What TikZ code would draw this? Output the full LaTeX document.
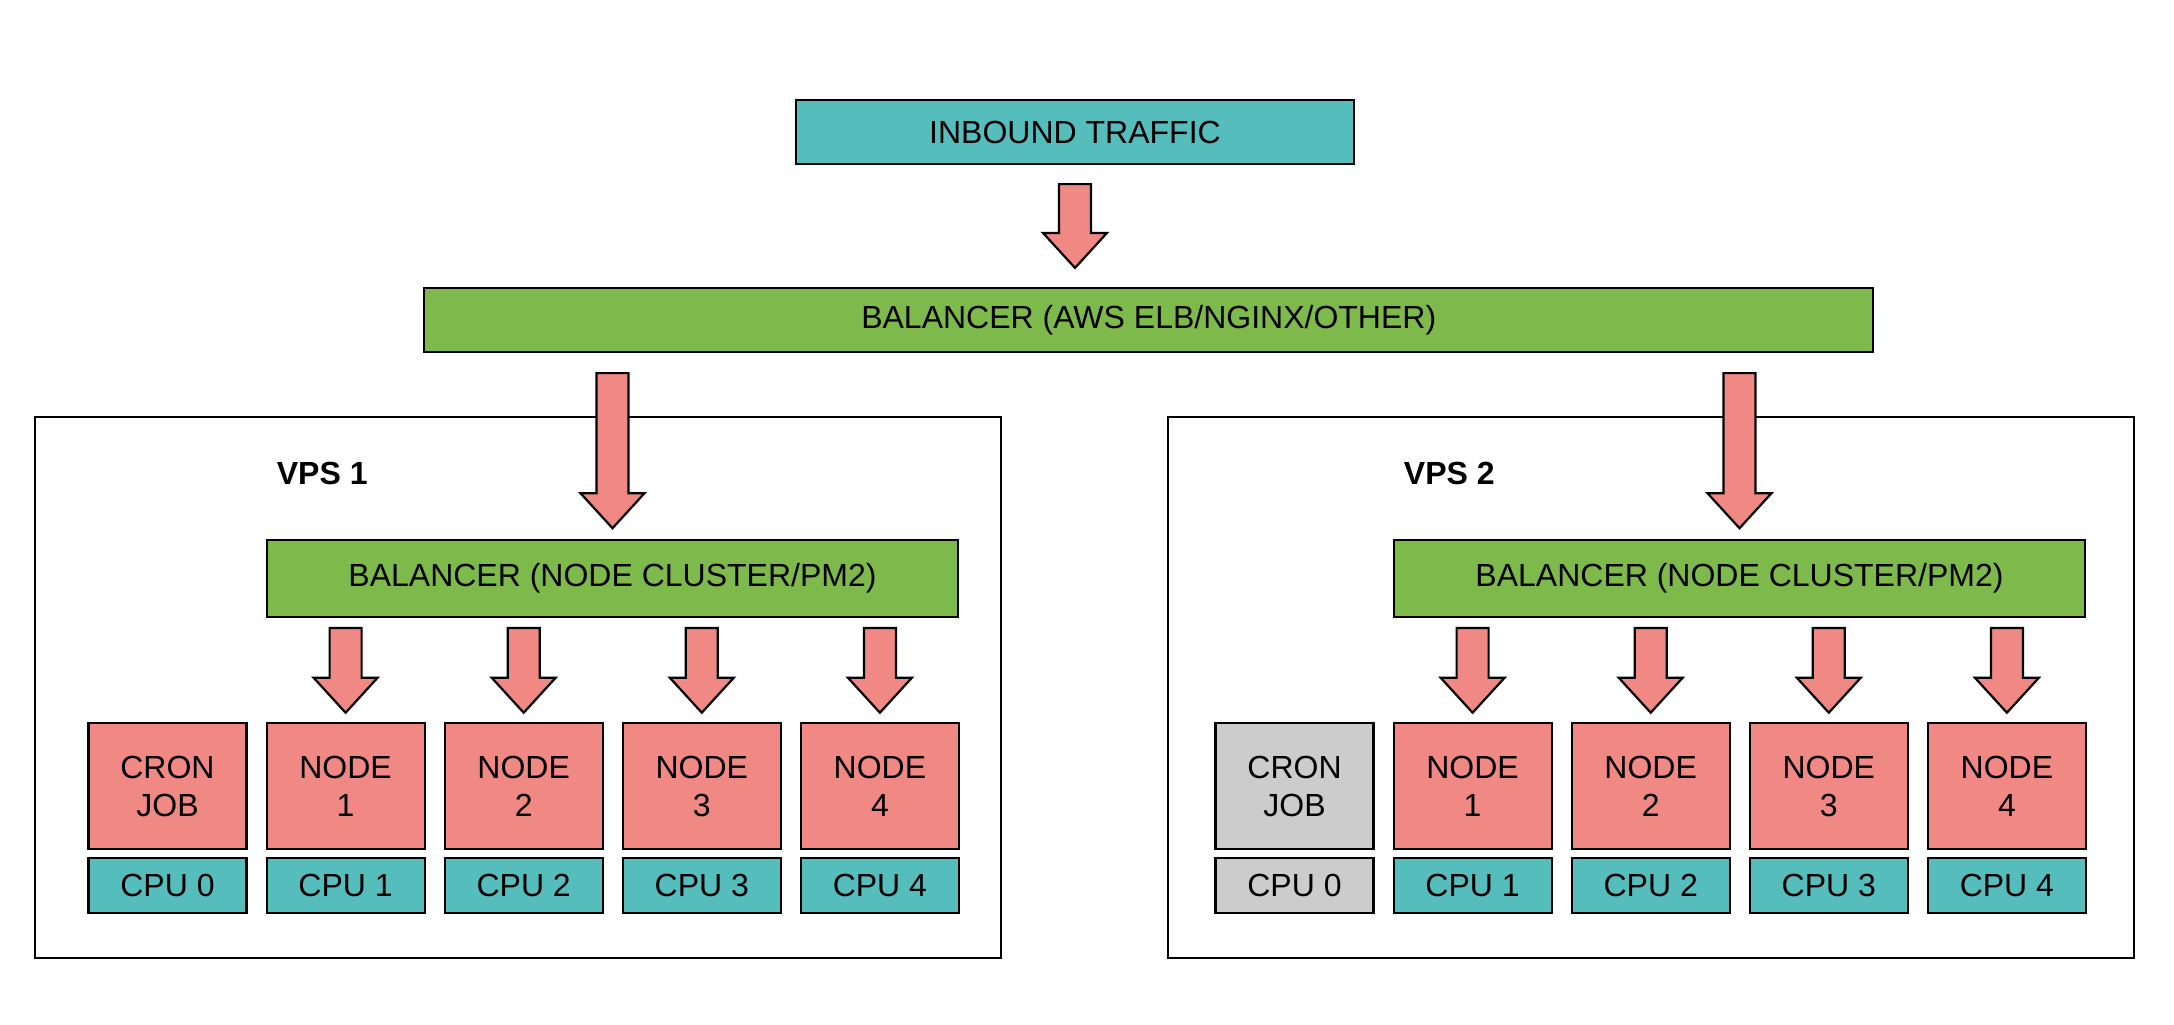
\documentclass[tikz,border=0pt]{standalone}
\usepackage{fontspec}
\setmainfont{Liberation Sans}
\usetikzlibrary{calc}
\definecolor{tealc}{RGB}{86,189,189}
\definecolor{greenc}{RGB}{126,185,76}
\definecolor{pinkc}{RGB}{240,136,132}
\definecolor{grayc}{RGB}{204,204,204}
\tikzset{
  base/.style={draw=black, line width=1.1pt, rectangle, inner sep=0pt, align=center,
    font=\fontsize{16}{19}\selectfont},
  tealbox/.style={base, fill=tealc},
  greenbox/.style={base, fill=greenc},
  pinkbox/.style={base, fill=pinkc},
  graybox/.style={base, fill=grayc},
  vpsbox/.style={draw=black, line width=1pt, fill=none, rectangle, inner sep=0pt},
  vpslabel/.style={anchor=west, inner sep=0pt, font=\fontsize{16}{19}\selectfont\bfseries},
  fatarrowstyle/.style={fill=pinkc, draw=black, line width=1.1pt, line join=miter},
}
\newcommand\fatarrow[2]{%
  \path[fatarrowstyle] ($(#1)+(-16,0)$) -- ($(#1)+(16,0)$) -- ($(#2)+(16,-35)$) --
    ($(#2)+(32,-35)$) -- (#2) -- ($(#2)+(-32,-35)$) -- ($(#2)+(-16,-35)$) -- cycle;}
\begin{document}
\begin{tikzpicture}[x=0.5pt,y=-0.5pt]
\useasboundingbox[fill=white] (0,0) rectangle (2174,1024);

% top
\node[tealbox, minimum width=279pt, minimum height=32pt] (in) at (1075,132) {INBOUND TRAFFIC};
\node[greenbox, minimum width=724.5pt, minimum height=32pt] (lb) at (1148.75,320) {BALANCER (AWS ELB/NGINX/OTHER)};

% VPS boxes
\node[vpsbox, minimum width=483pt, minimum height=270.5pt] (vps1) at (518,687.5) {};
\node[vpsbox, minimum width=483pt, minimum height=270.5pt] (vps2) at (1651,687.5) {};
\node[vpslabel] (v1l) at (276.5,473) {VPS 1};
\node[vpslabel] (v2l) at (1403.5,473) {VPS 2};

% inner balancers
\node[greenbox, minimum width=345.5pt, minimum height=38.5pt] (ib1) at (612.5,578.3) {BALANCER (NODE CLUSTER/PM2)};
\node[greenbox, minimum width=345.5pt, minimum height=38.5pt] (ib2) at (1739.5,578.3) {BALANCER (NODE CLUSTER/PM2)};

% VPS1 workers
\node[pinkbox, minimum width=79pt, minimum height=63pt] (c1) at (167.5,786.3) {CRON\\JOB};
\node[pinkbox, minimum width=79pt, minimum height=63pt] (n11) at (345.6,786.3) {NODE\\1};
\node[pinkbox, minimum width=79pt, minimum height=63pt] (n12) at (523.7,786.3) {NODE\\2};
\node[pinkbox, minimum width=79pt, minimum height=63pt] (n13) at (701.8,786.3) {NODE\\3};
\node[pinkbox, minimum width=79pt, minimum height=63pt] (n14) at (879.9,786.3) {NODE\\4};
\node[tealbox, minimum width=79pt, minimum height=27.5pt] (p10) at (167.5,885.3) {CPU 0};
\node[tealbox, minimum width=79pt, minimum height=27.5pt] (p11) at (345.6,885.3) {CPU 1};
\node[tealbox, minimum width=79pt, minimum height=27.5pt] (p12) at (523.7,885.3) {CPU 2};
\node[tealbox, minimum width=79pt, minimum height=27.5pt] (p13) at (701.8,885.3) {CPU 3};
\node[tealbox, minimum width=79pt, minimum height=27.5pt] (p14) at (879.9,885.3) {CPU 4};

% VPS2 workers
\node[graybox, minimum width=79pt, minimum height=63pt] (c2) at (1294.5,786.3) {CRON\\JOB};
\node[pinkbox, minimum width=79pt, minimum height=63pt] (n21) at (1472.6,786.3) {NODE\\1};
\node[pinkbox, minimum width=79pt, minimum height=63pt] (n22) at (1650.7,786.3) {NODE\\2};
\node[pinkbox, minimum width=79pt, minimum height=63pt] (n23) at (1828.8,786.3) {NODE\\3};
\node[pinkbox, minimum width=79pt, minimum height=63pt] (n24) at (2006.9,786.3) {NODE\\4};
\node[graybox, minimum width=79pt, minimum height=27.5pt] (p20) at (1294.5,885.3) {CPU 0};
\node[tealbox, minimum width=79pt, minimum height=27.5pt] (p21) at (1472.6,885.3) {CPU 1};
\node[tealbox, minimum width=79pt, minimum height=27.5pt] (p22) at (1650.7,885.3) {CPU 2};
\node[tealbox, minimum width=79pt, minimum height=27.5pt] (p23) at (1828.8,885.3) {CPU 3};
\node[tealbox, minimum width=79pt, minimum height=27.5pt] (p24) at (2006.9,885.3) {CPU 4};

% arrows
\coordinate (a0s) at ($(in.south)+(0,19)$);
\coordinate (a0e) at ($(in.south |- lb.north)+(0,-19)$);
\fatarrow{a0s}{a0e}
\coordinate (a1s) at ($(ib1.north |- lb.south)+(0,20)$);
\coordinate (a1e) at ($(ib1.north)+(0,-10.5)$);
\fatarrow{a1s}{a1e}
\coordinate (a2s) at ($(ib2.north |- lb.south)+(0,20)$);
\coordinate (a2e) at ($(ib2.north)+(0,-10.5)$);
\fatarrow{a2s}{a2e}
\foreach \n in {n11,n12,n13,n14}{
  \coordinate (s\n) at ($(\n.north |- ib1.south)+(0,10)$);
  \coordinate (e\n) at ($(\n.north)+(0,-9.5)$);
  \fatarrow{s\n}{e\n}
}
\foreach \n in {n21,n22,n23,n24}{
  \coordinate (s\n) at ($(\n.north |- ib2.south)+(0,10)$);
  \coordinate (e\n) at ($(\n.north)+(0,-9.5)$);
  \fatarrow{s\n}{e\n}
}
\end{tikzpicture}
\end{document}
